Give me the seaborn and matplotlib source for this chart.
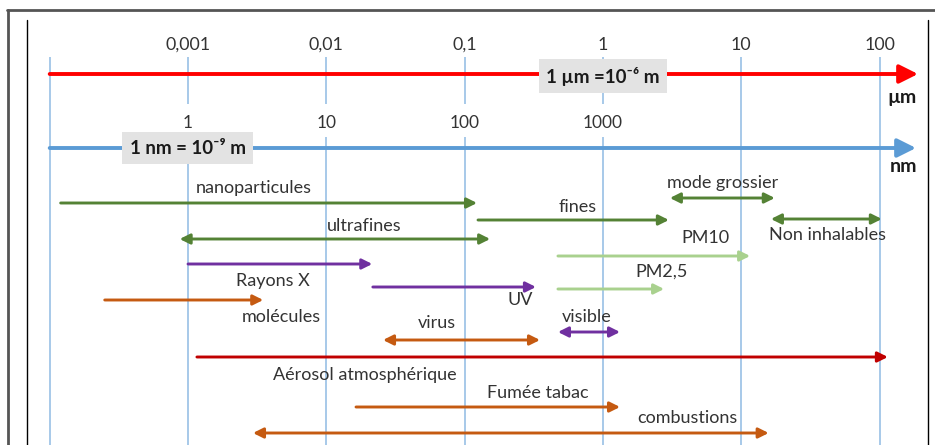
import numpy as np
import matplotlib.pyplot as plt
import seaborn as sns

# size ranges, in nm (arrow start, arrow end)
labels = ["nanoparticules", "fines", "mode grossier", "ultrafines", "Non inhalables",
          "PM10", "PM2,5", "Rayons X", "UV", "molécules", "visible", "virus",
          "Aérosol atmosphérique", "Fumée tabac", "combustions"]
start_nm = [0.12, 125, 3050, 0.87, 16400, 473, 473, 1.0, 21.7, 0.25, 473, 25.7, 1.16, 16.4, 2.95]
end_nm = [123, 3000, 17500, 153, 104000, 11600, 2770, 21.5, 328, 3.5, 1330, 351, 115000, 1330, 15800]
kinds = ["green", "green", "green", "green", "green", "light", "light", "purple", "purple",
         "orange", "purple", "orange", "darkred", "orange", "orange"]
both_ends = [False, False, True, True, True, False, False, False, False,
             False, True, True, False, False, True]

# layout: row of each arrow, label centre (nm) and label row
arrow_row = [203, 220, 198, 239, 219, 256, 289, 264, 287, 300, 332, 340, 357, 407, 433]
label_x = [3.0, 660, 7400, 18.7, 42400, 5470, 2670, 4.1, 252, 4.7, 767, 63, 19.0, 340, 4060]
label_row = [188, 207, 183, 226, 235, 238, 272, 281, 300, 317, 317, 323, 375, 393, 418]

um_ticks = ["0,001", "0,01", "0,1", "1", "10", "100"]
nm_ticks = ["1", "10", "100", "1000"]
decades_nm = [0.1, 1, 10, 100, 1000, 1e4, 1e5]

colors = {"green": "#548235", "light": "#a9d18e", "purple": "#7030a0",
          "orange": "#c55a11", "darkred": "#c00000"}

sns.set_theme(style="white")
plt.rcParams["font.family"] = ["Lato", "DejaVu Sans"]

W, H = 935, 445
fig = plt.figure(figsize=(W / 100, H / 100), dpi=100)
ax = fig.add_axes([0, 0, 1, 1])
ax.set_xscale("log")
px_per_dec = 138.3
ax.set_xlim(10 ** (-188 / px_per_dec), 10 ** ((W - 188) / px_per_dec))
ax.set_ylim(H, 0)
ax.axis("off")

txt = "#333333"
vcol = "#8fbbe3"
# decade lines
for i, x in enumerate(decades_nm):
    if 1 <= i <= 4:
        ax.vlines(x, 57, 104, color=vcol, lw=1.1, zorder=1)
        ax.vlines(x, 137, H, color=vcol, lw=1.1, zorder=1)
    else:
        ax.vlines(x, 57, H, color=vcol, lw=1.1, zorder=1)

# tick labels
for x, t in zip(decades_nm[1:], um_ticks):
    ax.text(x, 45, t, ha="center", va="center", fontsize=12.8, color=txt)
for x, t in zip(decades_nm[1:5], nm_ticks):
    ax.text(x, 123, t, ha="center", va="center", fontsize=12.5, color=txt)

# main axes
ax.annotate("", xy=(10 ** ((918 - 188) / px_per_dec), 74), xytext=(0.1, 74),
            arrowprops=dict(arrowstyle="-|>,head_length=0.7,head_width=0.35", color="#ff0000",
                            lw=2.8, shrinkA=0, shrinkB=0, mutation_scale=16), zorder=2)
ax.annotate("", xy=(10 ** ((916 - 188) / px_per_dec), 148), xytext=(0.1, 148),
            arrowprops=dict(arrowstyle="-|>,head_length=0.7,head_width=0.35", color="#5b9bd5",
                            lw=2.8, shrinkA=0, shrinkB=0, mutation_scale=16), zorder=2)

box = dict(boxstyle="square,pad=0.4", fc="#e3e3e3", ec="none")
ax.text(1000, 76, "1 µm =10⁻⁶ m", ha="center", va="center", fontsize=13.5,
        fontweight="bold", color="#1a1a1a", bbox=box, zorder=4)
ax.text(1.0, 148, "1 nm = 10⁻⁹ m", ha="center", va="center", fontsize=13.5,
        fontweight="bold", color="#1a1a1a", bbox=box, zorder=4)
ax.text(10 ** ((917 - 188) / px_per_dec), 97, "µm", ha="right", va="center",
        fontsize=14, fontweight="bold", color="#1a1a1a")
ax.text(10 ** ((917 - 188) / px_per_dec), 167, "nm", ha="right", va="center",
        fontsize=14, fontweight="bold", color="#1a1a1a")

# size ranges
for i, lab in enumerate(labels):
    style = "<|-|>" if both_ends[i] else "-|>"
    ax.annotate("", xy=(end_nm[i], arrow_row[i]), xytext=(start_nm[i], arrow_row[i]),
                arrowprops=dict(arrowstyle=style + ",head_length=0.5,head_width=0.25",
                                color=colors[kinds[i]], lw=2.1, shrinkA=0, shrinkB=0,
                                mutation_scale=12), zorder=3)
    ax.text(label_x[i], label_row[i], lab, ha="center", va="center", fontsize=13,
            color=txt, zorder=3)

# page frame
def fline(x0, y0, x1, y1, c, lw):
    fig.add_artist(plt.Line2D([x0 / W, x1 / W], [1 - y0 / H, 1 - y1 / H],
                              color=c, lw=lw, transform=fig.transFigure))

fline(7, 10, W, 10, "#555555", 2)
fline(8, 10, 8, H, "#555555", 2)
fline(27, 20, 27, H, "black", 1)
fline(928, 20, 928, H, "black", 1)

fig.savefig("out.png", dpi=100)
